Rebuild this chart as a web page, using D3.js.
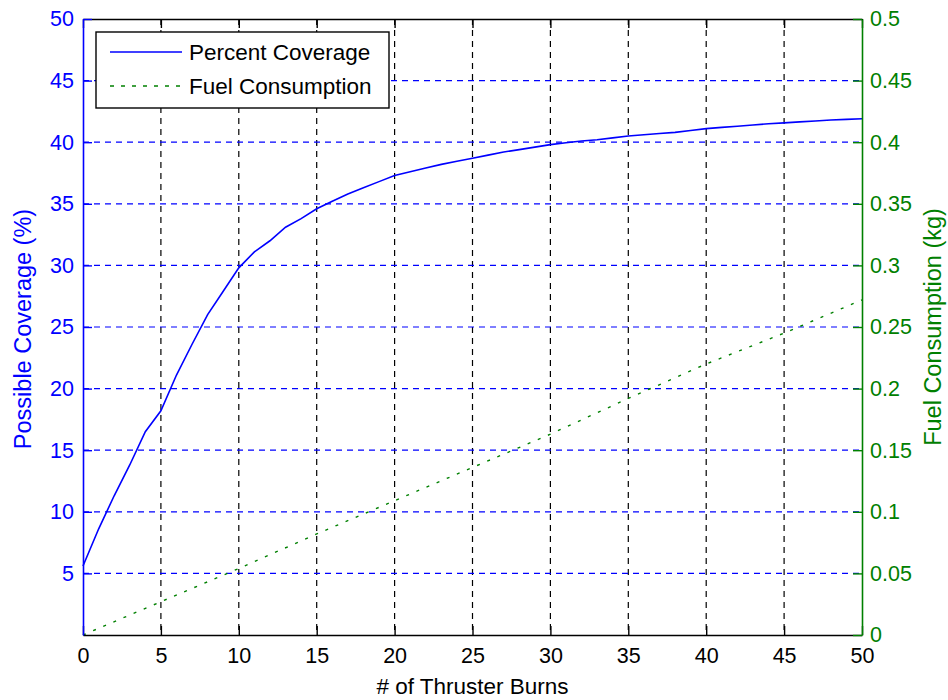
<!DOCTYPE html>
<html>
<head>
<meta charset="utf-8">
<style>
  body { margin: 0; background: #fff; }
  svg { display: block; font-family: "Liberation Sans", Arial, sans-serif; }
</style>
</head>
<body>
<div id="container"></div>
<script src="https://cdn.jsdelivr.net/npm/d3@7"></script>
<script>

// burns 0..50, coverage (%)
const burns = d3.range(0, 51);
const coverage = [
  5.6, 8.6, 11.3, 13.8, 16.5, 18.2, 21.1, 23.6, 26.0, 27.9,
  29.8, 31.1, 32.0, 33.1, 33.8, 34.6, 35.2, 35.8, 36.3, 36.8,
  37.3, 37.6, 37.9, 38.2, 38.45, 38.7, 38.95, 39.2, 39.4, 39.6,
  39.8, 39.95, 40.1, 40.2, 40.35, 40.5, 40.6, 40.7, 40.8, 40.95,
  41.1, 41.2, 41.3, 41.4, 41.5, 41.57, 41.65, 41.72, 41.8, 41.85, 41.9
];

// fuel (kg), read every 5 burns off the green line
const fuelBurns = [0, 5, 10, 15, 20, 25, 30, 35, 40, 45, 50];
const fuel = [0, 0.027, 0.054, 0.082, 0.109, 0.136, 0.163, 0.192, 0.22, 0.245, 0.272];

const xTicks = [0, 5, 10, 15, 20, 25, 30, 35, 40, 45, 50];
const leftTicks = [5, 10, 15, 20, 25, 30, 35, 40, 45, 50];
const rightTicks = [0, 0.05, 0.1, 0.15, 0.2, 0.25, 0.3, 0.35, 0.4, 0.45, 0.5];

const width = 948;
const height = 700;
const plotL = 83, plotR = 862, plotT = 19, plotB = 635;

const blue = "#0000ff";
const green = "#008000";

const x = d3.scaleLinear().domain([0, 50]).range([plotL, plotR]);
const yL = d3.scaleLinear().domain([0, 50]).range([plotB, plotT]);
const yR = d3.scaleLinear().domain([0, 0.5]).range([plotB, plotT]);

const svg = d3.create("svg")
    .attr("width", width)
    .attr("height", height);

svg.append("rect")
  .attr("width", width)
  .attr("height", height)
  .attr("fill", "white");

// grid
svg.append("g")
  .selectAll("line")
  .data(xTicks.filter(d => d > 0 && d < 50))
  .join("line")
  .attr("x1", d => x(d)).attr("x2", d => x(d))
  .attr("y1", plotT).attr("y2", plotB)
  .attr("stroke", "#000")
  .attr("stroke-width", 1.2)
  .attr("stroke-dasharray", "6,5");

svg.append("g")
  .selectAll("line")
  .data(leftTicks.filter(d => d < 50))
  .join("line")
  .attr("x1", plotL).attr("x2", plotR)
  .attr("y1", d => yL(d)).attr("y2", d => yL(d))
  .attr("stroke", blue)
  .attr("stroke-width", 1.2)
  .attr("stroke-dasharray", "6,5");

// series
svg.append("path")
  .datum(fuelBurns.map((b, i) => [b, fuel[i]]))
  .attr("fill", "none")
  .attr("stroke", green)
  .attr("stroke-width", 1.4)
  .attr("stroke-dasharray", "3,8")
  .attr("d", d3.line().x(d => x(d[0])).y(d => yR(d[1])));

svg.append("path")
  .datum(burns.map((b, i) => [b, coverage[i]]))
  .attr("fill", "none")
  .attr("stroke", blue)
  .attr("stroke-width", 1.6)
  .attr("d", d3.line().x(d => x(d[0])).y(d => yL(d[1])));

// axes
function style(g, color) {
  g.select(".domain").attr("stroke", color).attr("stroke-width", 1.6);
  g.selectAll(".tick line").attr("stroke", color).attr("stroke-width", 1.4);
  g.selectAll(".tick text").attr("fill", color);
  g.attr("font-size", 21.5).attr("font-family", null);
}

svg.append("g")
  .attr("transform", `translate(0,${plotT})`)
  .call(d3.axisTop(x).tickValues(xTicks).tickSize(-9).tickSizeOuter(0).tickFormat(""))
  .call(g => style(g, "#000"));

svg.append("g")
  .attr("transform", `translate(0,${plotB})`)
  .call(d3.axisBottom(x).tickValues(xTicks).tickSize(-9).tickSizeOuter(0).tickPadding(13))
  .call(g => style(g, "#000"));

svg.append("g")
  .attr("transform", `translate(${plotL},0)`)
  .call(d3.axisLeft(yL).tickValues(leftTicks).tickSize(-9).tickSizeOuter(0).tickPadding(9))
  .call(g => style(g, blue));

svg.append("g")
  .attr("transform", `translate(${plotR},0)`)
  .call(d3.axisRight(yR).tickValues(rightTicks).tickSize(-9).tickSizeOuter(0).tickPadding(8)
    .tickFormat(d => String(+d.toFixed(2))))
  .call(g => style(g, green));

// axis titles
svg.append("text")
  .attr("transform", `translate(31,${(plotT + plotB) / 2 + 2}) rotate(-90)`)
  .attr("text-anchor", "middle")
  .attr("font-size", 23.5)
  .attr("fill", blue)
  .text("Possible Coverage (%)");

svg.append("text")
  .attr("transform", `translate(941,${(plotT + plotB) / 2}) rotate(-90)`)
  .attr("text-anchor", "middle")
  .attr("font-size", 23.5)
  .attr("fill", green)
  .text("Fuel Consumption (kg)");

svg.append("text")
  .attr("x", (plotL + plotR) / 2)
  .attr("y", 694)
  .attr("text-anchor", "middle")
  .attr("font-size", 22.5)
  .attr("fill", "#000")
  .text("# of Thruster Burns");

// legend
const legend = svg.append("g");
legend.append("rect")
  .attr("x", 96).attr("y", 32)
  .attr("width", 293).attr("height", 76)
  .attr("fill", "white")
  .attr("stroke", "#000")
  .attr("stroke-width", 1.4);

const items = [
  { name: "Percent Coverage", color: blue, dash: null, y: 52 },
  { name: "Fuel Consumption", color: green, dash: "4,7", y: 86 }
];
items.forEach(it => {
  legend.append("line")
    .attr("x1", 110).attr("x2", 182)
    .attr("y1", it.y).attr("y2", it.y)
    .attr("stroke", it.color)
    .attr("stroke-width", 1.6)
    .attr("stroke-dasharray", it.dash);
  legend.append("text")
    .attr("x", 189).attr("y", it.y)
    .attr("dy", "0.36em")
    .attr("font-size", 22.5)
    .attr("fill", "#000")
    .text(it.name);
});

container.append(svg.node());

</script>
</body>
</html>
